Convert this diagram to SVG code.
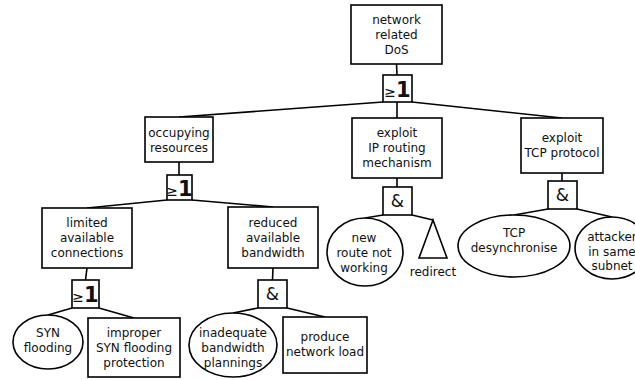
<svg xmlns="http://www.w3.org/2000/svg" width="635" height="380" viewBox="0 0 635 380">
  <style>
    .box { fill: #fff; stroke: #000; stroke-width: 1.6; }
    .gate { fill: #fff; stroke: #000; stroke-width: 1.6; }
    .leaf { fill: #fff; stroke: #000; stroke-width: 1.6; }
    .wire { fill: none; stroke: #000; stroke-width: 1.6; }
    text { font-family: "DejaVu Sans", Verdana, sans-serif; font-size: 12px; fill: #111; text-anchor: middle; }
    .amp { font-size: 17px; }
    .ge { font-size: 14px; }
    .one { font-size: 21px; font-weight: bold; }
  </style>
  <rect width="635" height="380" fill="#fff"/>

  <!-- connectors -->
  <g id="connectors">
    <line class="wire" x1="396.5" y1="64" x2="397" y2="75"/>
    <line class="wire" x1="383" y1="102" x2="179" y2="117"/>
    <line class="wire" x1="397" y1="102" x2="397" y2="118"/>
    <line class="wire" x1="412" y1="102" x2="562" y2="118"/>
    <line class="wire" x1="179" y1="162" x2="179" y2="175"/>
    <line class="wire" x1="167" y1="200" x2="87" y2="208"/>
    <line class="wire" x1="192" y1="200" x2="273" y2="207"/>
    <line class="wire" x1="397" y1="178" x2="397" y2="187"/>
    <line class="wire" x1="383" y1="215" x2="365" y2="218"/>
    <line class="wire" x1="412" y1="215" x2="433" y2="220"/>
    <line class="wire" x1="562" y1="173" x2="562" y2="181"/>
    <line class="wire" x1="548" y1="209" x2="514" y2="215"/>
    <line class="wire" x1="577" y1="209" x2="612" y2="217"/>
    <line class="wire" x1="87" y1="268" x2="85.5" y2="280"/>
    <line class="wire" x1="72" y1="308" x2="48" y2="315"/>
    <line class="wire" x1="99" y1="308" x2="134" y2="318"/>
    <line class="wire" x1="273" y1="268" x2="272.5" y2="280"/>
    <line class="wire" x1="258" y1="308" x2="233" y2="313"/>
    <line class="wire" x1="287" y1="308" x2="325" y2="317"/>
  </g>

  <!-- top event -->
  <g id="network-dos">
    <rect class="box" x="351" y="5" width="91" height="59"/>
    <text x="396.5" y="24">network</text>
    <text x="396.5" y="39">related</text>
    <text x="396.5" y="54">DoS</text>
  </g>
  <g id="gate-top">
    <rect class="gate" x="383" y="75" width="29" height="27"/>
    <text x="397.5" y="96.5"><tspan class="ge">≥</tspan><tspan class="one">1</tspan></text>
  </g>

  <!-- occupying resources branch -->
  <g id="occupying">
    <rect class="box" x="145" y="117" width="68" height="45"/>
    <text x="179" y="137">occupying</text>
    <text x="179" y="152">resources</text>
  </g>
  <g id="gate-occupying">
    <rect class="gate" x="167" y="175" width="25" height="25"/>
    <text x="179.5" y="195.5"><tspan class="ge">≥</tspan><tspan class="one">1</tspan></text>
  </g>

  <g id="limited">
    <rect class="box" x="42" y="208" width="90" height="60"/>
    <text x="87" y="227">limited</text>
    <text x="87" y="242">available</text>
    <text x="87" y="257">connections</text>
  </g>
  <g id="gate-limited">
    <rect class="gate" x="72" y="280" width="27" height="28"/>
    <text x="85.5" y="302"><tspan class="ge">≥</tspan><tspan class="one">1</tspan></text>
  </g>
  <g id="syn-flooding">
    <ellipse class="leaf" cx="48" cy="342" rx="35" ry="27"/>
    <text x="48" y="337">SYN</text>
    <text x="48" y="352">flooding</text>
  </g>
  <g id="improper-protection">
    <rect class="box" x="88" y="318" width="92" height="59"/>
    <text x="134" y="337">improper</text>
    <text x="134" y="352">SYN flooding</text>
    <text x="134" y="367">protection</text>
  </g>

  <g id="reduced">
    <rect class="box" x="228" y="207" width="90" height="61"/>
    <text x="273" y="227">reduced</text>
    <text x="273" y="242">available</text>
    <text x="273" y="257">bandwidth</text>
  </g>
  <g id="gate-reduced">
    <rect class="gate" x="258" y="280" width="29" height="28"/>
    <text x="272.5" y="300" class="amp">&amp;</text>
  </g>
  <g id="inadequate">
    <ellipse class="leaf" cx="233" cy="345" rx="44" ry="32"/>
    <text x="233" y="337">inadequate</text>
    <text x="233" y="352">bandwidth</text>
    <text x="233" y="367">plannings</text>
  </g>
  <g id="network-load">
    <rect class="box" x="283" y="317" width="84" height="56"/>
    <text x="325" y="341">produce</text>
    <text x="325" y="356">network load</text>
  </g>

  <!-- IP routing branch -->
  <g id="ip-routing">
    <rect class="box" x="352" y="118" width="90" height="60"/>
    <text x="397" y="137">exploit</text>
    <text x="397" y="152">IP routing</text>
    <text x="397" y="167">mechanism</text>
  </g>
  <g id="gate-ip">
    <rect class="gate" x="383" y="187" width="29" height="28"/>
    <text x="397.5" y="207" class="amp">&amp;</text>
  </g>
  <g id="new-route">
    <ellipse class="leaf" cx="365" cy="252" rx="38" ry="34"/>
    <text x="364" y="242">new</text>
    <text x="364" y="257">route not</text>
    <text x="364" y="272">working</text>
  </g>
  <g id="redirect">
    <polygon class="leaf" points="433,220 419,258 447,258"/>
    <text x="433" y="276">redirect</text>
  </g>

  <!-- TCP branch -->
  <g id="tcp-protocol">
    <rect class="box" x="521" y="118" width="82" height="55"/>
    <text x="562" y="142">exploit</text>
    <text x="562" y="157">TCP protocol</text>
  </g>
  <g id="gate-tcp">
    <rect class="gate" x="548" y="181" width="29" height="28"/>
    <text x="562.5" y="201" class="amp">&amp;</text>
  </g>
  <g id="tcp-desync">
    <ellipse class="leaf" cx="514" cy="246" rx="56" ry="31"/>
    <text x="514" y="237">TCP</text>
    <text x="514" y="252">desynchronise</text>
  </g>
  <g id="attacker-subnet">
    <ellipse class="leaf" cx="612" cy="248" rx="37" ry="31"/>
    <text x="612" y="241">attacker</text>
    <text x="612" y="256">in same</text>
    <text x="612" y="270">subnet</text>
  </g>
</svg>
